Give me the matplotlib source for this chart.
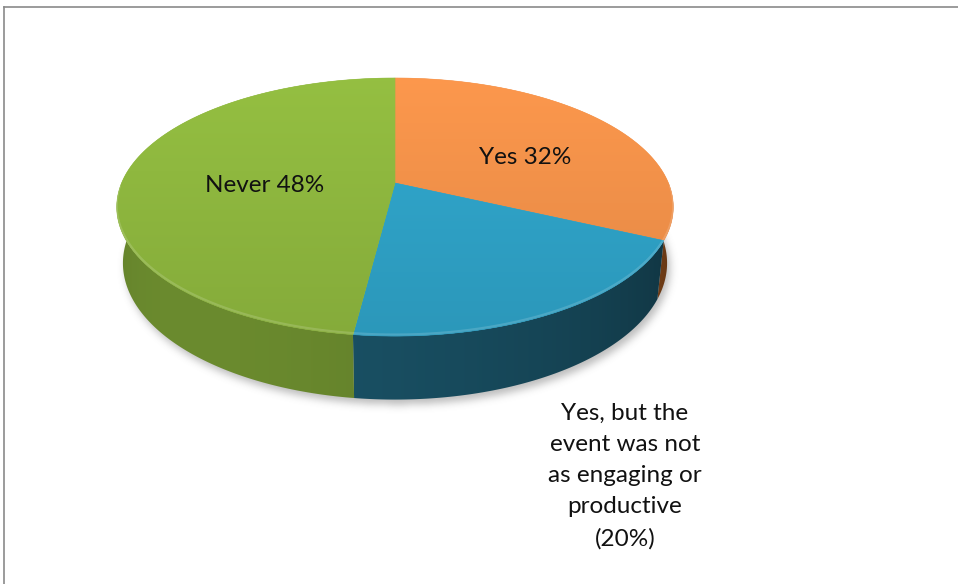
import numpy as np
import matplotlib
matplotlib.use("Agg")
import matplotlib.pyplot as plt
from matplotlib.patches import Polygon
from matplotlib.path import Path
from matplotlib.colors import to_rgb

# survey answers, drawn clockwise from 12 o'clock
labels = ["Yes 32%",
          "Yes, but the\nevent was not\nas engaging or\nproductive\n(20%)",
          "Never 48%"]
values = [32, 20, 48]
top_colors = ["#f3924a", "#2fa3c8", "#8fb83f"]
side_colors = ["#a95c22", "#1b566b", "#6f9030"]
label_xy = [(525, 158), (625, 476), (265, 185)]

# perspective camera for the 3d pie
elev = np.radians(27.1)
dist = 4.78
depth_h = 0.232
scale = 1307.0
cx, cy = 395.0, 183.0
W, H = 958, 584


def project(theta, r=1.0, z=0.0):
    x = r * np.cos(theta)
    y = r * np.sin(theta)
    depth = y * np.cos(elev) - z * np.sin(elev) + dist
    u = x / depth
    w = (y * np.sin(elev) + z * np.cos(elev)) / depth
    return cx + scale * u, cy - scale * w


def gaussian_blur(img, sigma):
    n = int(3 * sigma)
    k = np.exp(-0.5 * (np.arange(-n, n + 1) / sigma) ** 2)
    k /= k.sum()
    img = np.apply_along_axis(lambda r: np.convolve(r, k, mode="same"), 1, img)
    img = np.apply_along_axis(lambda c: np.convolve(c, k, mode="same"), 0, img)
    return img


fig = plt.figure(figsize=(W / 100, H / 100), dpi=100)
ax = fig.add_axes([0, 0, 1, 1])
ax.set_xlim(0, W)
ax.set_ylim(H, 0)
ax.axis("off")

# soft shadow under the pie
t_all = np.radians(np.linspace(0, 360, 361))
bx, by = project(t_all, z=-depth_h)
shadow_path = Path(np.column_stack([bx + 3, by + 5]))
x0, x1 = int(bx.min()) - 30, int(bx.max()) + 30
y0, y1 = int(by.min()) - 30, int(by.max()) + 30
gx, gy = np.meshgrid(np.arange(x0, x1) + 0.5, np.arange(y0, y1) + 0.5)
mask = shadow_path.contains_points(np.column_stack([gx.ravel(), gy.ravel()]))
mask = gaussian_blur(mask.reshape(gx.shape).astype(float), 4.0)
shadow = np.zeros(gx.shape + (4,))
shadow[..., :3] = 0.35
shadow[..., 3] = mask * 0.4
ax.imshow(shadow, extent=(x0, x1, y1, y0), interpolation="bilinear", zorder=1)

# slice angles (degrees), start at 90 and go clockwise
starts = 90 - 3.6 * np.concatenate([[0], np.cumsum(values)[:-1]])
ends = starts - 3.6 * np.array(values)

# front arc lookup: screen x -> angle, over the monotonic part of the rim
t_front = np.radians(np.linspace(-169, -11, 400))
fx, _ = project(t_front)


def side_light(theta):
    lam = 0.8 + 0.2 * np.cos(theta - np.radians(-150))
    edge = 0.8 + 0.2 * np.sqrt(np.clip(-np.sin(theta), 0, 1))
    return lam * edge


# side walls
for a1, a2, col in zip(starts, ends, side_colors):
    lo, hi = max(a2, -180), min(a1, 0)
    if lo >= hi:
        continue
    t = np.radians(np.linspace(hi, lo, 120))
    tx, ty = project(t)
    bx2, by2 = project(t[::-1], z=-depth_h)
    verts = np.column_stack([np.concatenate([tx, bx2]), np.concatenate([ty, by2])])
    patch = Polygon(verts, closed=True, facecolor="none", edgecolor="none", zorder=2)
    ax.add_patch(patch)
    sx0, sx1 = verts[:, 0].min() - 1, verts[:, 0].max() + 1
    sy0, sy1 = verts[:, 1].min() - 1, verts[:, 1].max() + 1
    cols = np.linspace(sx0, sx1, 300)
    theta_c = np.interp(cols, fx, t_front)
    shade = side_light(theta_c)
    img = np.clip(np.array(to_rgb(col))[None, None, :] * shade[None, :, None], 0, 1)
    img = np.repeat(img, 2, axis=0)
    im = ax.imshow(img, extent=(sx0, sx1, sy1, sy0), interpolation="bilinear",
                   aspect="auto", zorder=2)
    im.set_clip_path(patch)

# top faces with a gentle top-to-bottom gradient
_, ry = project(t_all)
ytop, ybot = ry.min(), ry.max()
for a1, a2, col in zip(starts, ends, top_colors):
    t = np.radians(np.linspace(a1, a2, 200))
    tx, ty = project(t)
    verts = np.vstack([[cx, cy], np.column_stack([tx, ty])])
    patch = Polygon(verts, closed=True, facecolor=col, edgecolor=col,
                    linewidth=0.4, zorder=3)
    ax.add_patch(patch)
    rows = np.linspace(ytop, ybot, 200)
    fac = 1.04 - 0.11 * (rows - ytop) / (ybot - ytop)
    img = np.clip(fac[:, None, None] * np.array(to_rgb(col))[None, None, :], 0, 1)
    img = np.repeat(img, 2, axis=1)
    im = ax.imshow(img, extent=(verts[:, 0].min() - 1, verts[:, 0].max() + 1, ybot + 1, ytop - 1),
                   interpolation="bilinear", aspect="auto", zorder=3)
    im.set_clip_path(patch)

# bevel highlight along the front rim
t = np.radians(np.linspace(-178, -2, 200))
hx, hy = project(t)
ax.plot(hx, hy - 1.5, color="white", alpha=0.15, linewidth=1.6, zorder=4,
        solid_capstyle="round")

for text, (lx, ly) in zip(labels, label_xy):
    ax.text(lx, ly, text, ha="center", va="center", fontsize=17.5,
            family=["Lato", "DejaVu Sans"], color="#111111",
            linespacing=1.6, zorder=5)

# chart area border
ax.plot([4, W], [7, 7], color="#8a8a8a", linewidth=1.2, clip_on=False, zorder=6)
ax.plot([4, 4], [7, H], color="#8a8a8a", linewidth=1.2, clip_on=False, zorder=6)

fig.savefig("out.png", dpi=100, facecolor="white")
